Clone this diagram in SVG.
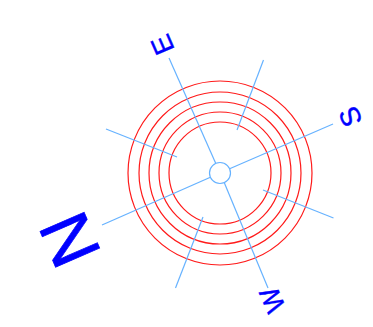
<svg xmlns="http://www.w3.org/2000/svg" width="373" height="327" viewBox="0 0 373 327">
<style>
.s{stroke:#66b2ff;stroke-width:1.2;fill:none}
.r{stroke:#ff1a1a;stroke-width:1.2;fill:none}
text{font-family:"Liberation Sans",Arial,sans-serif;fill:#0000ff;stroke:#0000ff;text-anchor:middle}
</style>
<rect width="373" height="327" fill="#fff"/>
<g id="rings">
<circle class="r" cx="220" cy="173" r="51"/>
<circle class="r" cx="220" cy="173" r="61"/>
<circle class="r" cx="220" cy="173" r="71"/>
<circle class="r" cx="220" cy="173" r="81"/>
<circle class="r" cx="220" cy="173" r="92"/>
</g>
<g id="connectors">
<line class="s" x1="169" y1="58" x2="215.800" y2="163.400"/>
<line class="s" x1="224.200" y1="182.600" x2="268" y2="288"/>
<line class="s" x1="102" y1="225" x2="210.400" y2="177.200"/>
<line class="s" x1="229.600" y1="168.800" x2="333" y2="124"/>
<line class="s" x1="263.500" y1="60" x2="237" y2="130"/>
<line class="s" x1="106" y1="129" x2="177" y2="157"/>
<line class="s" x1="175.500" y1="288" x2="203" y2="217"/>
<line class="s" x1="333.500" y1="218" x2="263" y2="190"/>
</g>
<g id="hub"><circle class="s" cx="220" cy="173" r="10.500"/></g>
<g id="label-n"><text transform="translate(69,240) rotate(246.500) translate(0,25)" font-size="70" stroke-width="0.700">N</text></g>
<g id="label-e"><text transform="translate(162,45) rotate(246.500) translate(0,10)" font-size="28" stroke-width="0.400">E</text></g>
<g id="label-s"><text transform="translate(350,117) rotate(246.500) translate(0,10)" font-size="28" stroke-width="0.400">S</text></g>
<g id="label-w"><text transform="translate(272,300) rotate(246.500) scale(0.920,1) translate(0,10)" font-size="28" stroke-width="0.400">W</text></g>
</svg>
